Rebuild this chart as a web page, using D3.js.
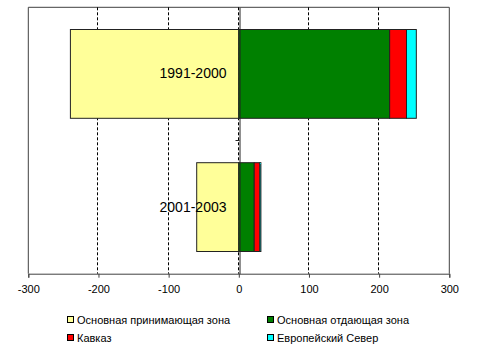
<!DOCTYPE html>
<html>
<head>
<meta charset="utf-8">
<script src="https://cdn.jsdelivr.net/npm/d3@7"></script>
<style>
  body { margin: 0; background: #fff; }
  svg { display: block; font-family: "Liberation Sans", Arial, sans-serif; }
</style>
</head>
<body>
<div id="chart"></div>
<script>
'use strict';

// data
const categories = ['1991-2000', '2001-2003'];
const seriesNames = ['Основная принимающая зона', 'Основная отдающая зона', 'Кавказ', 'Европейский Север'];
const receiving = [-240, -60];     // основная принимающая зона
const giving = [215, 22];          // основная отдающая зона
const caucasus = [24, 8];          // Кавказ
const north = [14, 1.5];           // Европейский Север
const xTicks = [-300, -200, -100, 0, 100, 200, 300];

const colors = ['#FFFF99', '#008000', '#FF0000', '#00FFFF'];
const keys = ['receiving', 'giving', 'caucasus', 'north'];

const rows = categories.map((c, i) => ({
    cat: c,
    receiving: receiving[i],
    giving: giving[i],
    caucasus: caucasus[i],
    north: north[i]
}));

const W = 477, H = 355;
const plot = {left: 28.3, right: 449.3, top: 7.3, bottom: 273.7};

const svg = d3.select('#chart').append('svg')
    .attr('width', W)
    .attr('height', H);

const x = d3.scaleLinear([-300, 300], [plot.left, plot.right]);
const y = d3.scaleBand(categories, [plot.top, plot.bottom])
    .paddingInner(1 / 3)
    .paddingOuter(1 / 6);

// plot frame (top, left, right)
svg.append('path')
    .attr('d', `M${plot.left},${plot.bottom}V${plot.top}H${plot.right}V${plot.bottom}`)
    .attr('fill', 'none')
    .attr('stroke', '#404040')
    .attr('stroke-width', 1);

// dashed gridlines (0 included, sits next to the category axis)
svg.append('g')
    .selectAll('line')
    .data(xTicks.slice(1, -1))
    .join('line')
    .attr('x1', d => Math.round(x(d)) - 0.5)
    .attr('x2', d => Math.round(x(d)) - 0.5)
    .attr('y1', plot.top)
    .attr('y2', plot.bottom)
    .attr('stroke', '#000')
    .attr('stroke-dasharray', '3,2');

// stacked bars
const stack = d3.stack().keys(keys).offset(d3.stackOffsetDiverging);
const layers = stack(rows);

svg.append('g')
    .selectAll('g')
    .data(layers)
    .join('g')
    .attr('fill', (d, i) => colors[i])
    .selectAll('rect')
    .data(d => d)
    .join('rect')
    .attr('x', d => x(Math.min(d[0], d[1])))
    .attr('width', d => Math.abs(x(d[1]) - x(d[0])))
    .attr('y', d => y(d.data.cat))
    .attr('height', y.bandwidth())
    .attr('stroke', '#222')
    .attr('stroke-width', 1);

// category axis at x = 0
const axisY = svg.append('g')
    .attr('transform', `translate(${Math.round(x(0)) + 0.5},0)`)
    .call(d3.axisLeft(y).tickSize(0).tickPadding(13));
axisY.select('.domain').attr('stroke', '#222');
axisY.selectAll('text')
    .attr('font-size', 14)
    .attr('font-family', '"Liberation Sans", Arial, sans-serif')
    .attr('fill', '#000');

// tick marks between categories
axisY.selectAll('.between')
    .data(categories.slice(1))
    .join('line')
    .attr('class', 'between')
    .attr('x1', -4)
    .attr('x2', 0)
    .attr('y1', d => y(d) - y.step() * y.paddingInner() / 2)
    .attr('y2', d => y(d) - y.step() * y.paddingInner() / 2)
    .attr('stroke', '#222');

// value axis
const axisX = svg.append('g')
    .attr('transform', `translate(0,${plot.bottom})`)
    .call(d3.axisBottom(x).tickValues(xTicks).tickSize(4).tickPadding(8).tickFormat(d => String(d)));
axisX.select('.domain').attr('stroke', '#404040');
axisX.selectAll('line').attr('stroke', '#404040');
axisX.selectAll('text')
    .attr('font-size', 11)
    .attr('font-family', '"Liberation Sans", Arial, sans-serif')
    .attr('fill', '#000');

// legend
const legendPos = [[67.5, 316.5], [267.5, 316.5], [67.5, 334.5], [267.5, 334.5]];
const legend = svg.append('g')
    .selectAll('g')
    .data(seriesNames)
    .join('g')
    .attr('transform', (d, i) => `translate(${legendPos[i][0]},${legendPos[i][1]})`);

legend.append('rect')
    .attr('width', 6)
    .attr('height', 6)
    .attr('fill', (d, i) => colors[i])
    .attr('stroke', '#000');

legend.append('text')
    .attr('x', 9.5)
    .attr('y', 7)
    .attr('font-size', 11)
    .attr('fill', '#000')
    .text(d => d);
</script>
</body>
</html>
